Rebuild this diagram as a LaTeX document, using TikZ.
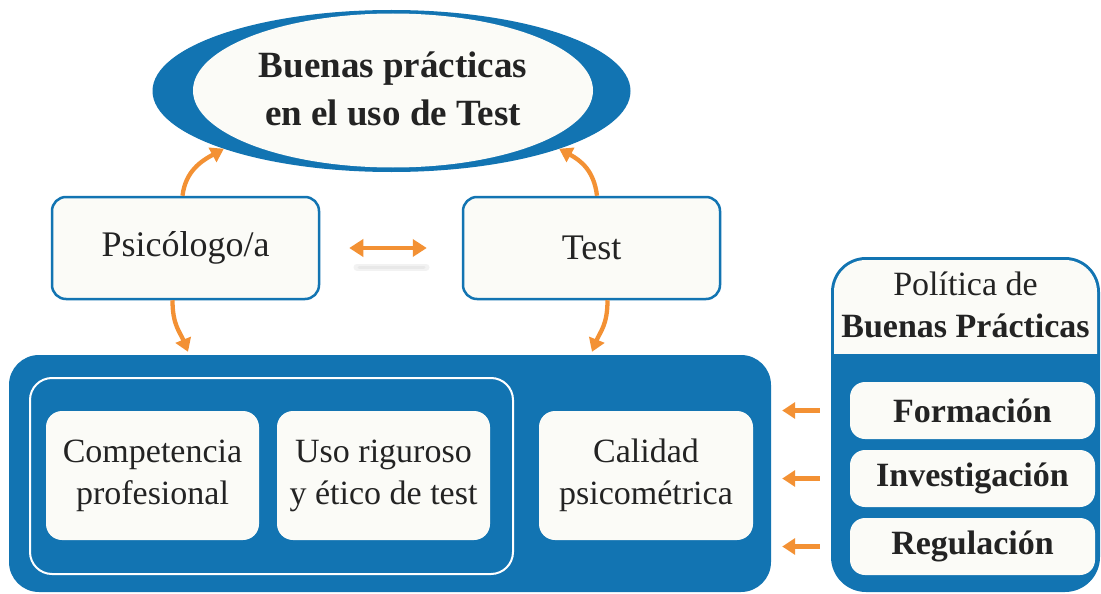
\documentclass[tikz,border=0pt]{standalone}
\usepackage{fontspec}
\setmainfont{Liberation Serif}
\usetikzlibrary{arrows.meta,shapes.geometric,calc}
\definecolor{myblue}{RGB}{18,116,178}
\definecolor{myorange}{RGB}{243,145,52}
\definecolor{offwhite}{RGB}{251,251,247}
\definecolor{ink}{RGB}{35,35,35}
\begin{document}
\begin{tikzpicture}[x=1pt,y=-1pt,
  topbox/.style={rectangle, rounded corners=14pt, draw=myblue, line width=2.5pt, fill=offwhite, inner sep=0pt, text=ink, font=\fontsize{36}{42}\selectfont},
  inbox/.style={rectangle, rounded corners=16pt, fill=offwhite, inner sep=0pt, text=ink, align=center, font=\fontsize{34}{42}\selectfont, minimum width=213pt, minimum height=129pt},
  polbox/.style={rectangle, rounded corners=15pt, fill=offwhite, inner sep=0pt, minimum width=245pt, minimum height=57pt, text=ink, font=\bfseries\fontsize{34}{40}\selectfont},
  arr/.style={draw=myorange, line width=4.3pt, -{Triangle[length=13pt,width=16pt]}},
  darr/.style={draw=myorange, line width=4.3pt, {Triangle[length=14pt,width=17pt]}-{Triangle[length=14pt,width=17pt]}}
]
\useasboundingbox (0,0) rectangle (1101,594);
\fill[white] (0,0) rectangle (1101,594);

% goal ellipse
\node[ellipse, fill=myblue, minimum width=478pt, minimum height=162pt, inner sep=0pt, outer sep=0pt] (goal) at (391.5,91) {};
\fill[offwhite] (393,90.5) ellipse [x radius=200pt, y radius=77pt];
\node[font=\bfseries\fontsize{37}{48}\selectfont, align=center, text=ink] (goaltext) at (393,88.5) {Buenas prácticas\\en el uso de Test};

% top boxes
\node[topbox, minimum width=267pt, minimum height=102pt] (psi) at (185.5,248) {Psicólogo/a};
\node[topbox, minimum width=257pt, minimum height=102pt] (test) at (591.5,248) {Test};

% big box
\node[rectangle, rounded corners=30pt, fill=myblue, minimum width=762pt, minimum height=237pt, inner sep=0pt] (big) at (390,473.5) {};
\node[rectangle, rounded corners=22pt, draw=white, line width=2pt, minimum width=483pt, minimum height=196pt, inner sep=0pt] (grp) at (271.5,476) {};
\node[inbox] (comp) at (152.5,475.5) {Competencia\\profesional};
\node[inbox] (uso) at (383.5,475.5) {Uso riguroso\\y ético de test};
\node[inbox, minimum width=214pt] (cal) at (646,475.5) {Calidad\\psicométrica};

% policy panel
\node[rectangle, rounded corners=35pt, fill=myblue, minimum width=269pt, minimum height=335pt, inner sep=0pt] (pol) at (965.5,424.5) {};
\begin{scope}
  \clip[rounded corners=32pt] (834,260) rectangle (1097,589);
  \fill[offwhite] (820,250) rectangle (1110,354);
\end{scope}
\node[align=center, text=ink, font=\fontsize{34}{42}\selectfont] (poltitle) at (965.5,305) {Política de\\\textbf{Buenas Prácticas}};
\node[polbox] (form) at (972.5,410.5) {Formación};
\node[polbox] (inv) at (972.5,478.5) {Investigación};
\node[polbox] (reg) at (972.5,546.5) {Regulación};

% connectors
\draw[arr] ([xshift=-3pt]psi.north) .. controls +(3,-25) and +(-22,12) .. (goal.199);
\draw[arr] ([xshift=5.5pt]test.north) .. controls +(-3,-25) and +(22,12) .. (goal.341);
\draw[arr] ([xshift=-13pt]psi.south) .. controls +(0,25) and +(-8,-20) .. ($(psi.south |- big.north)+(2.5,-3)$);
\draw[arr] ([xshift=16pt]test.south) .. controls +(0,25) and +(8,-20) .. ($(test.south |- big.north)+(0.5,-3)$);

\draw[line width=7pt, black!5, line cap=round] (357,267) -- (426,267);
\draw[line width=3pt, black!9, line cap=round] (359,267) -- (424,267);
\draw[darr, shorten <=29pt, shorten >=35pt] (psi.east) -- (test.west);

\draw[arr, shorten <=11pt, shorten >=11pt] (form.west -| pol.west) -- (form.west -| big.east);
\draw[arr, shorten <=11pt, shorten >=11pt] (inv.west -| pol.west) -- (inv.west -| big.east);
\draw[arr, shorten <=11pt, shorten >=11pt] (reg.west -| pol.west) -- (reg.west -| big.east);
\end{tikzpicture}
\end{document}
